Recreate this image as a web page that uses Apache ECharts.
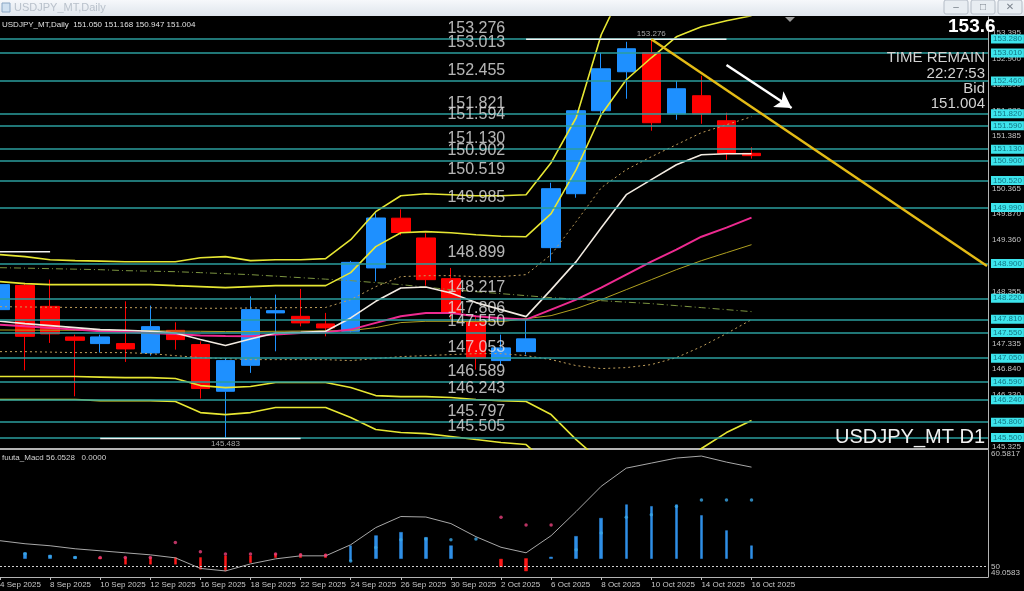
<!DOCTYPE html>
<html><head><meta charset="utf-8">
<script src="https://cdn.jsdelivr.net/npm/echarts@6/dist/echarts.min.js"></script>
<style>html,body{margin:0;padding:0;background:#000;}#c{width:1024px;height:591px;}</style>
</head><body><div id="c"></div>
<script>
// ---------- data ----------
const dates = ['4 Sep 2025','5 Sep 2025','8 Sep 2025','9 Sep 2025','10 Sep 2025','11 Sep 2025','12 Sep 2025','15 Sep 2025','16 Sep 2025','17 Sep 2025','18 Sep 2025','19 Sep 2025','22 Sep 2025','23 Sep 2025','24 Sep 2025','25 Sep 2025','26 Sep 2025','29 Sep 2025','30 Sep 2025','1 Oct 2025','2 Oct 2025','3 Oct 2025','6 Oct 2025','7 Oct 2025','8 Oct 2025','9 Oct 2025','10 Oct 2025','13 Oct 2025','14 Oct 2025','15 Oct 2025','16 Oct 2025'];
const open  = [147.998,148.472,148.062,147.465,147.335,147.335,147.153,147.594,147.315,146.404,146.911,147.934,147.867,147.719,147.575,148.812,149.783,149.397,148.603,147.770,147.003,147.178,149.208,150.261,151.881,152.642,153.013,151.822,152.174,151.686,151.050];
const close = [148.486,147.477,147.524,147.399,147.465,147.231,147.666,147.413,146.457,147.003,147.998,147.978,147.739,147.641,148.921,149.787,149.504,148.583,147.934,147.056,147.251,147.427,150.359,151.881,152.700,153.091,151.647,152.310,151.822,151.042,151.004];
const low   = [147.900,146.813,147.348,146.306,147.160,146.977,147.100,147.217,146.262,145.483,146.763,147.184,147.672,147.477,147.550,148.550,149.450,148.466,147.800,146.827,146.900,147.120,148.934,150.183,151.783,152.115,151.491,151.705,151.627,150.925,150.947];
const high  = [148.550,148.500,148.583,147.510,147.510,148.160,148.076,147.750,147.379,147.050,148.257,148.291,148.402,147.934,148.950,149.877,149.955,149.487,148.812,147.850,147.510,147.803,150.476,151.900,153.013,153.227,153.276,152.466,152.564,151.842,151.168];

const maWhite   = [147.770,147.725,147.686,147.647,147.608,147.594,147.575,147.543,147.413,147.296,147.426,147.543,147.555,147.575,147.836,148.160,148.421,148.441,148.324,148.135,147.998,147.861,148.388,148.935,149.598,150.242,150.535,150.827,151.022,151.042,151.042];
const bbMid     = [147.705,147.672,147.641,147.608,147.575,147.559,147.543,147.520,147.491,147.481,147.477,147.510,147.543,147.555,147.608,147.739,147.867,147.934,147.934,147.867,147.832,147.803,147.998,148.193,148.427,148.681,148.935,149.169,149.422,149.598,149.793];
const maOlive   = [147.600,147.598,147.596,147.594,147.590,147.588,147.585,147.580,147.575,147.570,147.570,147.575,147.580,147.585,147.588,147.647,147.745,147.770,147.770,147.764,147.764,147.822,147.881,148.018,148.193,148.388,148.583,148.778,148.954,149.110,149.266];
const maLong    = [148.817,148.808,148.798,148.788,148.778,148.759,148.749,148.739,148.720,148.700,148.681,148.651,148.622,148.593,148.564,148.525,148.486,148.437,148.388,148.349,148.310,148.271,148.232,148.203,148.173,148.144,148.115,148.076,148.037,147.998,147.959];
const bbUp1     = [148.056,148.050,148.045,148.040,148.037,148.037,148.035,148.030,148.025,148.025,148.030,148.035,148.037,148.040,148.193,148.447,148.642,148.661,148.661,148.642,148.642,148.681,149.071,149.715,150.378,150.730,150.983,151.218,151.452,151.608,151.764];
const bbLow1    = [147.178,147.178,147.169,147.159,147.159,147.159,147.139,147.100,147.061,147.042,147.022,147.022,147.022,147.022,147.003,147.042,147.081,147.100,147.120,147.139,147.139,147.100,147.022,146.905,146.847,146.866,146.925,147.061,147.276,147.530,147.803];
const bbUp2     = [148.544,148.505,148.486,148.486,148.486,148.486,148.486,148.466,148.447,148.427,148.447,148.466,148.466,148.466,148.720,149.227,149.500,149.520,149.500,149.461,149.432,149.422,149.871,150.730,151.803,152.486,152.915,153.325,153.520,153.637,153.735];
const bbLow2    = [146.691,146.691,146.691,146.691,146.681,146.671,146.671,146.652,146.515,146.476,146.496,146.574,146.574,146.574,146.476,146.320,146.300,146.300,146.281,146.242,146.222,146.203,145.949,145.461,145.032,144.779,144.681,144.837,145.286,145.598,145.832];
const bbUp3     = [149.071,149.032,148.973,148.954,148.944,148.934,148.934,148.934,149.012,149.032,148.954,148.973,148.973,148.993,149.364,149.910,150.222,150.261,150.242,150.222,150.222,150.242,150.866,151.744,153.364,154.388,154.905,155.403,155.569,155.656,155.705];
const bbLow3    = [146.242,146.242,146.242,146.242,146.222,146.222,146.222,146.203,145.988,145.949,145.988,146.086,146.086,146.086,145.891,145.657,145.598,145.578,145.520,145.461,145.403,145.364,144.925,144.096,143.335,142.827,142.554,142.671,143.218,143.598,143.852];

const levels = [153.276,153.013,152.455,151.821,151.594,151.130,150.902,150.519,149.985,148.899,148.217,147.806,147.550,147.053,146.589,146.243,145.797,145.505];
const priceTicks = [153.395,152.900,152.390,151.880,151.385,150.875,150.365,149.870,149.360,148.855,148.355,147.845,147.335,146.840,146.330,145.825,145.325];

const trendLine = [[26,153.276],[39.4,148.850]];
const arrowFrom = [29.0,152.774], arrowTo = [31.6,151.935];
const highMark = {at:26, from:21, to:29, price:153.276};
const lowMark  = {at:9, from:4, to:12, price:145.483};
const prevMark = {from:-0.6, to:2, price:149.129};

const macdLine = [52.351,52.076,51.893,51.619,51.436,51.253,51.070,50.796,49.836,49.607,50.247,50.704,50.979,50.979,51.985,53.540,54.546,54.500,53.905,52.716,51.756,51.253,52.808,55.003,57.289,58.936,59.393,59.850,60.033,59.484,59.027];
const histFrom = [null,50.732,50.732,50.732,50.823,50.823,50.823,50.823,50.823,50.979,50.979,51.161,51.134,51.134,50.521,50.732,50.732,50.732,50.732,null,50.677,50.732,50.732,50.732,50.732,50.732,50.732,50.732,50.732,50.732,50.732];
const histTo   = [null,51.253,51.043,50.915,50.700,50.220,50.220,50.220,49.762,49.607,50.366,50.823,50.823,50.823,51.893,52.807,53.110,52.652,51.893,null,50.000,49.607,50.870,52.744,54.390,55.616,55.460,55.616,54.637,53.265,51.893];
const macdDot  = [null,51.161,50.915,50.823,50.823,50.823,50.823,52.195,51.345,51.134,51.134,51.134,51.070,51.043,50.521,51.738,52.442,52.506,52.442,52.506,54.482,53.787,53.787,51.528,53.055,54.482,54.701,55.460,56.053,56.053,56.0528];
const macdDotSide = ['','up','up','up','dn','dn','dn','dn','dn','dn','dn','dn','dn','dn','up','up','up','up','up','up','dn','dn','dn','up','up','up','up','up','up','up','up'];
const macdTicks = [60.5817, 49.0583];
const macdLevel = 50;

// ---------- chart ----------
const FONT = 'Liberation Sans, Arial, sans-serif';
const X0 = 0, X1 = 39.44;           // visible bar-index window (includes empty future slots)
const dateTicks = dates.map((d, i) => i).filter(i => i % 2 === 0);
const idx = (arr) => arr.map((v, i) => [i, v]);

function ln(name, data, color, width, type) {
  return {name, type:'line', xAxisIndex:0, yAxisIndex:0, data: idx(data), symbol:'none', silent:true,
    z:3, clip:true, lineStyle:{color, width, type: type || 'solid'}};
}
function seg(name, m, color) {
  return {name, type:'line', xAxisIndex:0, yAxisIndex:0, data:[[m.from,m.price],[m.to,m.price]],
    symbol:'none', silent:true, z:5, clip:true, lineStyle:{color, width:1.5}};
}
const histData = [];
histFrom.forEach((b, i) => { if (b != null) histData.push([i, b, histTo[i], Math.min(b, histTo[i]), Math.max(b, histTo[i])]); });

const chart = echarts.init(document.getElementById('c'));
chart.setOption({
  animation:false,
  backgroundColor:'#000',
  textStyle:{fontFamily:FONT},
  grid:[
    {left:0, right:36, top:17, height:432, show:false, outerBoundsMode:'none', containLabel:false},
    {left:0, right:36, top:450, bottom:14, show:false, outerBoundsMode:'none', containLabel:false}
  ],
  xAxis:[
    {type:'value', gridIndex:0, min:X0, max:X1,
     axisLine:{show:true, onZero:false, lineStyle:{color:'#b4b4b4', width:2}},
     axisTick:{show:false}, axisLabel:{show:false}, splitLine:{show:false}},
    {type:'value', gridIndex:1, min:X0, max:X1,
     axisLine:{show:true, onZero:false, lineStyle:{color:'#b4b4b4', width:1}},
     axisTick:{show:true, customValues:dateTicks, length:3, lineStyle:{color:'#bdbdbd'}},
     axisLabel:{customValues:dateTicks, align:'left', margin:4, color:'#c8c8c8', fontSize:8, fontFamily:FONT,
       showMinLabel:true, hideOverlap:false,
       formatter:(v)=> dates[Math.round(v)] || ''},
     splitLine:{show:false}}
  ],
  yAxis:[
    {type:'value', gridIndex:0, position:'right', min:145.277, max:153.711,
     splitLine:{show:false}, axisLine:{show:true, onZero:false, lineStyle:{color:'#b4b4b4'}},
     axisTick:{show:false},
     axisLabel:{customValues:priceTicks, color:'#c4c4c4', fontSize:8, margin:4, fontFamily:FONT,
       formatter:(v)=>Number(v).toFixed(3)}},
    {type:'value', gridIndex:1, position:'right', min:49.0583, max:60.5817,
     splitLine:{show:false}, axisLine:{show:true, onZero:false, lineStyle:{color:'#b4b4b4'}},
     axisTick:{show:false},
     axisLabel:{customValues:macdTicks, color:'#c4c4c4', fontSize:8, margin:3, fontFamily:FONT,
       showMinLabel:true, showMaxLabel:true, hideOverlap:false,
       verticalAlignMaxLabel:'bottom', verticalAlignMinLabel:'top',
       formatter:(v)=> Number(v).toFixed(4)}}
  ],
  series:[
    {name:'price', type:'candlestick', xAxisIndex:0, yAxisIndex:0, z:2, silent:true, barWidth:19, clip:true,
     data: open.map((o,i)=>[i, o, close[i], low[i], high[i]]),
     itemStyle:{color:'#1e90ff', color0:'#ff0000', borderColor:'#1e90ff', borderColor0:'#ff0000', borderWidth:1}},
    ln('maLong', maLong, '#7c9440', 1, [7,3,1,3]),
    ln('bbUp1', bbUp1, '#c2a05c', 1, [2,3]),
    ln('bbLow1', bbLow1, '#c2a05c', 1, [2,3]),
    ln('maOlive', maOlive, '#b0a020', 1),
    ln('bbMid', bbMid, '#ee2a90', 2),
    ln('maWhite', maWhite, '#f2ebe2', 1.6),
    ln('bbUp2', bbUp2, '#e6e633', 1.6),
    ln('bbLow2', bbLow2, '#e6e633', 1.6),
    ln('bbUp3', bbUp3, '#e6e633', 1.6),
    ln('bbLow3', bbLow3, '#e6e633', 1.6),
    seg('high', highMark, '#f2f2f2'),
    seg('low', lowMark, '#f2f2f2'),
    seg('prev', prevMark, '#f2f2f2'),
    {name:'levels', type:'scatter', xAxisIndex:0, yAxisIndex:0, z:6, silent:true,
     data: levels.map(v=>[18, v]), symbolSize:1, itemStyle:{color:'rgba(0,0,0,0)'},
     label:{show:true, position:[-3,-18], formatter:(p)=>p.value[1].toFixed(3), color:'#e2e2e2', fontSize:16, fontFamily:FONT},
     markLine:{silent:true, symbol:['none','none'], animation:false,
       lineStyle:{color:'#2b9e9e', width:1.5, type:'solid'},
       label:{show:true, position:'end', distance:3, formatter:(p)=>Number(p.value).toFixed(3),
         color:'#137584', backgroundColor:'#3de4ec', fontSize:8, padding:[1,2,0,2], fontFamily:FONT},
       data: levels.map(v=>({yAxis:v}))}},
    {name:'extremes', type:'scatter', xAxisIndex:0, yAxisIndex:0, z:6, silent:true, symbolSize:1,
     itemStyle:{color:'rgba(0,0,0,0)'},
     data:[{value:[lowMark.at, lowMark.price], label:{position:'bottom'}},
           {value:[highMark.at, highMark.price], label:{position:'top'}}],
     label:{show:true, distance:1, formatter:(p)=>p.value[1].toFixed(3), color:'#d0d0d0', fontSize:8, fontFamily:FONT}},
    {name:'trend', type:'line', xAxisIndex:0, yAxisIndex:0, z:7, silent:true, data:trendLine, symbol:'none', clip:true,
     lineStyle:{color:'#e4bb16', width:2.5},
     markLine:{silent:true, symbol:['none','arrow'], symbolSize:[14,16], animation:false,
       lineStyle:{color:'#ffffff', width:2.5, type:'solid'}, label:{show:false},
       data:[[{coord:arrowFrom},{coord:arrowTo}]]}},
    // MACD panel
    {name:'hist', type:'candlestick', xAxisIndex:1, yAxisIndex:1, silent:true, barWidth:3, z:2, clip:true,
     data: histData,
     itemStyle:{color:'#2f8fe6', color0:'#ff1a1a', borderColor:'#2f8fe6', borderColor0:'#ff1a1a', borderWidth:0.5}},
    {name:'macd', type:'line', xAxisIndex:1, yAxisIndex:1, silent:true, symbol:'none', z:3, clip:true,
     data: idx(macdLine), lineStyle:{color:'#a8a8a8', width:1},
     markLine:{silent:true, symbol:['none','none'], animation:false,
       label:{show:true, position:'end', distance:3, formatter:(p)=>String(p.value), color:'#c4c4c4', fontSize:8, fontFamily:FONT},
       lineStyle:{color:'#cfcfcf', width:1, type:[2,2]}, data:[{yAxis:macdLevel}]}},
    {name:'signal', type:'scatter', xAxisIndex:1, yAxisIndex:1, silent:true, symbolSize:3.5, z:4,
     data: macdDot.map((v,i)=> v==null ? [i,'-'] : [i, v]),
     itemStyle:{color:(p)=> macdDotSide[p.dataIndex]==='dn' ? '#e8407c' : '#3aa6e6'}}
  ],
  graphic:[
    {type:'rect', silent:true, z:100, shape:{x:0,y:0,width:1024,height:16},
     style:{fill:new echarts.graphic.LinearGradient(0,0,0,1,[{offset:0,color:'#f6f8fb'},{offset:1,color:'#dfe5ec'}])}},
    {type:'rect', silent:true, z:101, shape:{x:2,y:3,width:8,height:9}, style:{fill:'#cfe0f0', stroke:'#8aa6c4', lineWidth:1}},
    {type:'text', silent:true, z:101, x:14, y:8, style:{text:'USDJPY_MT,Daily', fill:'#b9c1cb', font:'11px '+FONT, verticalAlign:'middle', textVerticalAlign:'middle'}},
    {type:'rect', silent:true, z:101, shape:{x:944,y:0,width:24,height:14,r:2}, style:{fill:'#e8edf2', stroke:'#b4bcc6'}},
    {type:'rect', silent:true, z:101, shape:{x:971,y:0,width:24,height:14,r:2}, style:{fill:'#e8edf2', stroke:'#b4bcc6'}},
    {type:'rect', silent:true, z:101, shape:{x:998,y:0,width:24,height:14,r:2}, style:{fill:'#e8edf2', stroke:'#b4bcc6'}},
    {type:'text', silent:true, z:102, x:956, y:7, style:{text:'–', fill:'#7a828c', font:'10px '+FONT, align:'center', textAlign:'center', verticalAlign:'middle', textVerticalAlign:'middle'}},
    {type:'text', silent:true, z:102, x:983, y:7, style:{text:'□', fill:'#7a828c', font:'10px '+FONT, align:'center', textAlign:'center', verticalAlign:'middle', textVerticalAlign:'middle'}},
    {type:'text', silent:true, z:102, x:1010, y:7, style:{text:'✕', fill:'#7a828c', font:'10px DejaVu Sans', align:'center', textAlign:'center', verticalAlign:'middle', textVerticalAlign:'middle'}},
    {type:'polygon', silent:true, z:101, shape:{points:[[785,17],[795,17],[790,22]]}, style:{fill:'#9a9a9a'}},
    {type:'text', silent:true, z:50, x:2, y:25, style:{text:'USDJPY_MT,Daily  151.050 151.168 150.947 151.004', fill:'#e0e0e0', font:'8px '+FONT, verticalAlign:'middle', textVerticalAlign:'middle'}},
    {type:'text', silent:true, z:50, x:2, y:458, style:{text:'fuuta_Macd 56.0528   0.0000', fill:'#d0d0d0', font:'8px '+FONT, verticalAlign:'middle', textVerticalAlign:'middle'}},
    {type:'text', silent:true, z:50, x:948, y:27, style:{text:'153.6', fill:'#ffffff', font:'bold 19px '+FONT, verticalAlign:'middle', textVerticalAlign:'middle'}},
    {type:'text', silent:true, z:50, x:985, y:58, style:{text:'TIME REMAIN', fill:'#d2d2d2', font:'15px '+FONT, align:'right', textAlign:'right', verticalAlign:'middle', textVerticalAlign:'middle'}},
    {type:'text', silent:true, z:50, x:985, y:74, style:{text:'22:27:53', fill:'#d2d2d2', font:'15px '+FONT, align:'right', textAlign:'right', verticalAlign:'middle', textVerticalAlign:'middle'}},
    {type:'text', silent:true, z:50, x:985, y:89, style:{text:'Bid', fill:'#d2d2d2', font:'15px '+FONT, align:'right', textAlign:'right', verticalAlign:'middle', textVerticalAlign:'middle'}},
    {type:'text', silent:true, z:50, x:985, y:104, style:{text:'151.004', fill:'#d2d2d2', font:'15px '+FONT, align:'right', textAlign:'right', verticalAlign:'middle', textVerticalAlign:'middle'}},
    {type:'text', silent:true, z:50, x:985, y:437, style:{text:'USDJPY_MT D1', fill:'#f0f0f0', font:'20px '+FONT, align:'right', textAlign:'right', verticalAlign:'middle', textVerticalAlign:'middle'}}
  ]
});
</script>
</body></html>
